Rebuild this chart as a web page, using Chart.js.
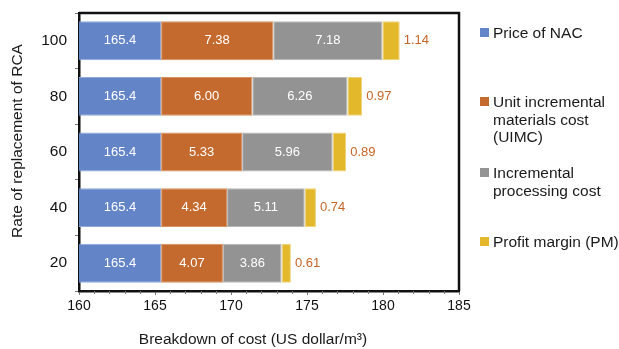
<!DOCTYPE html>
<html>
<head>
<meta charset="utf-8">
<script src="https://cdnjs.cloudflare.com/ajax/libs/Chart.js/4.4.1/chart.umd.min.js"></script>
<style>
html,body{margin:0;padding:0;background:#fff;}
#wrap{position:relative;width:619px;height:349px;}
#legend{position:absolute;left:480px;top:0;font-family:"Liberation Sans",Arial,sans-serif;font-size:15.5px;color:#1a1a1a;line-height:17.5px;}
.item{position:absolute;left:0;white-space:nowrap;}
.item i{position:absolute;left:0;top:4px;width:9px;height:9px;}
.item span{display:block;margin-left:13px;}
</style>
</head>
<body>
<div id="wrap">
<canvas id="chart" width="619" height="349"></canvas>
<div id="legend"></div>
</div>
<script>
// data
const rates=['100','80','60','40','20']
const priceNAC=[165.4,165.4,165.4,165.4,165.4]
const uimc=[7.38,6.00,5.33,4.34,4.07]
const processing=[7.18,6.26,5.96,5.11,3.86]
const profit=[1.14,0.97,0.89,0.74,0.61]
const xTicks=[160,165,170,175,180,185]
const seriesNames=[['Price of NAC'],['Unit incremental','materials cost','(UIMC)'],['Incremental','processing cost'],['Profit margin (PM)']]
const xTitle='Breakdown of cost (US dollar/m³)'
const yTitle='Rate of replacement of RCA'
const colors=['#6484c8','#c46a2e','#939393','#e3b82a']
const borders=['#8fa8de','#d9905f','#b9b9b9','#f0d37a']
const legendTops=[24,93,164,233]

const font="'Liberation Sans', Arial, sans-serif"

// legend as html
const legendEl=document.getElementById('legend')
seriesNames.forEach((lines,i)=>{
const d=document.createElement('div')
d.className='item'
d.style.top=legendTops[i]+'px'
d.innerHTML='<i style="background:'+colors[i]+'"></i><span>'+lines.join('<br>')+'</span>'
legendEl.appendChild(d)
})

const labelsPlugin={
id:'barLabels',
afterDatasetsDraw(chart){
const ctx=chart.ctx
ctx.save()
ctx.font='13px '+font
ctx.textBaseline='middle'
chart.data.datasets.forEach((ds,di)=>{
const meta=chart.getDatasetMeta(di)
meta.data.forEach((bar,i)=>{
const v=ds.data[i]
const txt=di===0?v.toFixed(1):v.toFixed(2)
const left=Math.max(bar.base,chart.chartArea.left)
if(di===3){
ctx.fillStyle='#c5652a'
ctx.textAlign='left'
ctx.fillText(txt,bar.x+4,bar.y)
}else{
ctx.fillStyle='#ffffff'
ctx.textAlign='center'
ctx.fillText(txt,(left+bar.x)/2,bar.y)
}
})
})
ctx.restore()
}
}

const framePlugin={
id:'frame',
afterDraw(chart){
const ctx=chart.ctx
const a=chart.chartArea
const xs=chart.scales.x
ctx.save()
ctx.strokeStyle='#111'
ctx.lineWidth=2.5
ctx.beginPath()
ctx.moveTo(a.left,a.top)
ctx.lineTo(a.right,a.top)
ctx.lineTo(a.right,a.bottom)
ctx.stroke()
// minor ticks
ctx.strokeStyle='#777'
ctx.lineWidth=1
for(let v=xs.min;v<=xs.max;v++){
if(v%5===0)continue
const px=Math.round(xs.getPixelForValue(v))+0.5
ctx.beginPath()
ctx.moveTo(px,a.bottom)
ctx.lineTo(px,a.bottom+3)
ctx.stroke()
}
// axis titles
ctx.fillStyle='#1a1a1a'
ctx.font='15.5px '+font
ctx.textAlign='center'
ctx.textBaseline='middle'
ctx.fillText(xTitle,253,340)
ctx.translate(18,141)
ctx.rotate(-Math.PI/2)
ctx.fillText(yTitle,0,0)
ctx.restore()
}
}

new Chart(document.getElementById('chart'),{
type:'bar',
data:{
labels:rates,
datasets:[priceNAC,uimc,processing,profit].map((d,i)=>({
label:seriesNames[i].join(' '),
data:d,
backgroundColor:colors[i],
borderColor:borders[i],
borderWidth:1,
borderSkipped:false,
categoryPercentage:1,
barPercentage:0.7
}))
},
options:{
indexAxis:'y',
responsive:false,
animation:false,
layout:{padding:{left:0,right:160,top:13,bottom:0}},
plugins:{legend:{display:false},tooltip:{enabled:false}},
scales:{
x:{
stacked:true,
min:xTicks[0],
max:xTicks[xTicks.length-1],
afterFit(s){s.height=58;s.paddingLeft=0;s.paddingRight=0},
afterBuildTicks(s){s.ticks=xTicks.map(v=>({value:v}))},
border:{color:'#111',width:2.5},
grid:{drawOnChartArea:false,drawTicks:true,tickLength:4,color:'#777'},
ticks:{color:'#111',font:{family:font,size:14},padding:3}
},
y:{
stacked:true,
afterFit(s){s.width=79;s.paddingTop=0;s.paddingBottom=0},
border:{color:'#111',width:2.5},
grid:{offset:true,drawOnChartArea:false,drawTicks:true,tickLength:4,color:'#777'},
ticks:{color:'#111',font:{family:font,size:15.5},padding:8}
}
}
},
plugins:[labelsPlugin,framePlugin]
})
</script>
</body>
</html>
